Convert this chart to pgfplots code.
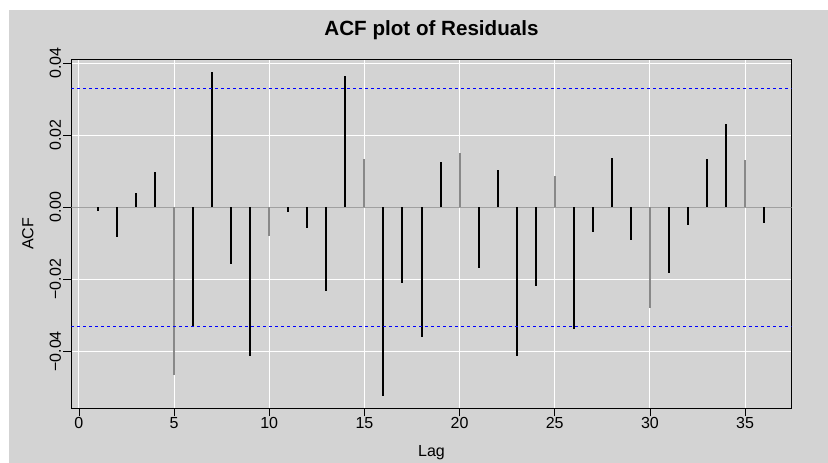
\documentclass[border=0pt]{standalone}
\usepackage{fontspec}
\setmainfont{Liberation Sans}
\usepackage{pgfplots}
\pgfplotsset{compat=1.18}
\definecolor{panelgray}{RGB}{211,211,211}
\definecolor{zerogray}{RGB}{160,160,160}
\definecolor{midgray}{RGB}{136,136,136}

\begin{document}
\begin{tikzpicture}
% page background (white strip at top and left, grey panel)
\fill[white] (-71.3pt,-54.7pt) rectangle (756.7pt,408.3pt);
\fill[panelgray] (-62.3pt,-54.7pt) rectangle (756.7pt,398.3pt);
\begin{axis}[
    scale only axis,
    width=720.4pt, height=348.6pt,
    xmin=-0.4, xmax=37.45,
    ymin=-0.05578, ymax=0.04092,
    xtick={0,5,...,35},
    ytick={-0.04,-0.02,0,0.02,0.04},
    yticklabels={−0.04,−0.02,0.00,0.02,0.04},
    scaled y ticks=false,
    xtick pos=left, ytick pos=left,
    tick align=outside,
    major tick length=8pt,
    every tick/.style={black, line width=0.8pt},
    axis line style={black, line width=1pt},
    grid=major,
    grid style={white, line width=1pt},
    font=\fontsize{16}{19}\selectfont,
    /pgf/number format/assume math mode=true,
    xticklabel style={anchor=base, font=\fontsize{16}{19}\selectfont},
    xticklabel shift=12.4pt,
    yticklabel style={rotate=90, anchor=base, font=\fontsize{16}{19}\selectfont},
    yticklabel shift=2.5pt,
    title={ACF plot of Residuals},
    title style={at={(axis description cs:0.5,1.0508)}, anchor=base,
        font=\bfseries\fontsize{20.6}{24}\selectfont},
    xlabel={Lag},
    every axis x label/.style={at={(axis description cs:0.5,-0.1388)}, anchor=base,
        font=\fontsize{16}{19}\selectfont},
    ylabel={ACF},
    every axis y label/.style={at={(axis description cs:-0.0525,0.5)}, rotate=90, anchor=base,
        font=\fontsize{16}{19}\selectfont},
  ]
  % zero line
  \addplot[zerogray, line width=1pt] coordinates {(-0.4,0) (37.45,0)};
  % black lags
  \addplot[ycomb, black, line width=2pt, mark=none] coordinates {
    (1,-0.0010) (2,-0.0083) (3,0.0040) (4,0.0098) (6,-0.0333) (7,0.0376)
    (8,-0.0157) (9,-0.0412) (11,-0.0014) (12,-0.0059) (13,-0.0232) (14,0.0363)
    (16,-0.0523) (17,-0.0210) (18,-0.0361) (19,0.0125) (21,-0.0170) (22,0.0103)
    (23,-0.0414) (24,-0.0219) (26,-0.0338) (27,-0.0069) (28,0.0136) (29,-0.0092)
    (31,-0.0182) (32,-0.0050) (33,0.0133) (34,0.0230) (36,-0.0044)
  };
  % lags on the grid lines look grey
  \addplot[ycomb, midgray, line width=2pt, mark=none] coordinates {
    (5,-0.0465) (10,-0.0079) (15,0.0134) (20,0.0151) (25,0.0086) (30,-0.0280) (35,0.0132)
  };
  % confidence bounds
  \addplot[blue, line width=1pt, dash pattern=on 3pt off 3pt] coordinates {(-0.4,0.033) (37.45,0.033)};
  \addplot[blue, line width=1pt, dash pattern=on 3pt off 3pt] coordinates {(-0.4,-0.033) (37.45,-0.033)};
\end{axis}
\pgfresetboundingbox
\path[use as bounding box] (-71.3pt,-54.7pt) rectangle (756.7pt,408.3pt);
\end{tikzpicture}
\end{document}
